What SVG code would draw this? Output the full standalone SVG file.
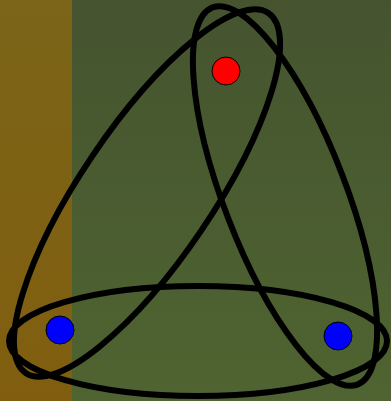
<svg xmlns="http://www.w3.org/2000/svg" width="391" height="401" viewBox="0 0 391 401">
<defs>
<linearGradient id="gl" x1="0" y1="0" x2="0" y2="1"><stop offset="0" stop-color="#7b6518"/><stop offset="1" stop-color="#815e0f"/></linearGradient>
<linearGradient id="gr" x1="0" y1="0" x2="0" y2="1"><stop offset="0" stop-color="#45542f"/><stop offset="1" stop-color="#4f6431"/></linearGradient>
<style>.loop{fill:none;stroke:#000;stroke-width:6}.dot{stroke:#000;stroke-width:1}</style>
</defs>
<rect x="0" y="0" width="72" height="401" fill="url(#gl)"/>
<rect x="72" y="0" width="319" height="401" fill="url(#gr)"/>
<g id="connectors">
<ellipse id="loopA" class="loop" cx="147" cy="193" rx="217" ry="66" transform="rotate(-56 147 193)"/>
<ellipse id="loopB" class="loop" cx="285" cy="196" rx="202" ry="61" transform="rotate(69 285 196)"/>
<ellipse id="loopC" class="loop" cx="198" cy="341" rx="189" ry="55"/>
</g>
<g id="n1"><circle class="dot" cx="226" cy="71" r="14" fill="#ff0000"/></g>
<g id="n2"><circle class="dot" cx="60" cy="330" r="14" fill="#0000ff"/></g>
<g id="n3"><circle class="dot" cx="338" cy="336" r="14" fill="#0000ff"/></g>
</svg>
